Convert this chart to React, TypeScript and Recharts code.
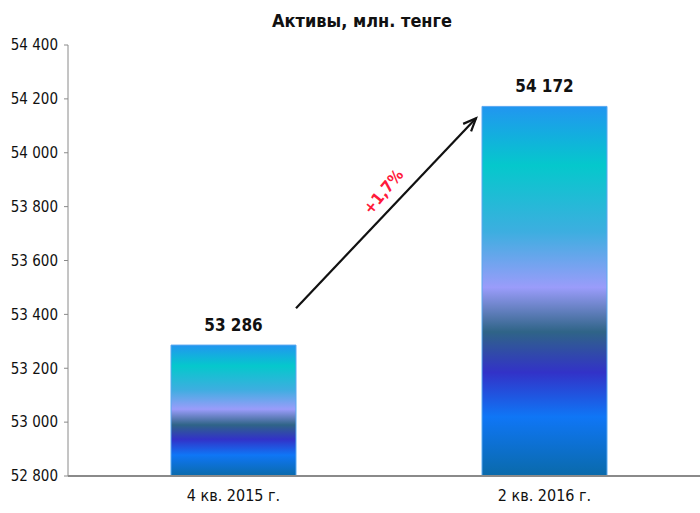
import React from 'react';
import { BarChart, Bar, XAxis, YAxis, LabelList, ReferenceLine } from 'recharts';

const categories = ['4 кв. 2015 г.', '2 кв. 2016 г.'];
const assets = [53286, 54172];
const yTicks = [52800, 53000, 53200, 53400, 53600, 53800, 54000, 54200, 54400];
const title = 'Активы, млн. тенге';
const growthLabel = '+1,7%';
const arrowFrom = 53423;
const arrowTo = 54128;

const data = categories.map((c, i) => ({ name: c, value: assets[i] }));

const FONT = '"DejaVu Sans Condensed", "Liberation Sans Narrow", sans-serif';
const BAR_SIZE = 125;

const fmt = (v: number) => String(v).replace(/\B(?=(\d{3})+(?!\d))/g, ' ');

const ArrowShape = (props: any) => {
  const { x1, y1, x2, y2 } = props;
  if (x1 == null) return null;
  const sx = x1 + BAR_SIZE / 2;
  const ex = x2 - BAR_SIZE / 2 - 6;
  const sy = y1;
  const ey = y2;
  const ang = Math.atan2(ey - sy, ex - sx);
  const ah = 14;
  const a1 = ang + Math.PI - 0.4;
  const a2 = ang + Math.PI + 0.4;
  const mx = (sx + ex) / 2 + 6;
  const my = (sy + ey) / 2 - 8;
  const deg = (ang * 180) / Math.PI;
  const ox = mx + Math.sin(ang) * 6;
  const oy = my - Math.cos(ang) * 6;
  return (
    <g>
      <line x1={sx} y1={sy} x2={ex} y2={ey} stroke="#111" strokeWidth={2.2} />
      <polyline
        points={`${ex + Math.cos(a1) * ah},${ey + Math.sin(a1) * ah} ${ex},${ey} ${ex + Math.cos(a2) * ah},${ey + Math.sin(a2) * ah}`}
        fill="none"
        stroke="#111"
        strokeWidth={2.2}
      />
      <text
        x={ox}
        y={oy - 6}
        transform={`rotate(${deg - 4} ${ox} ${oy - 6})`}
        textAnchor="middle"
        fill="#ff1a3a"
        fontFamily={FONT}
        fontWeight="bold"
        fontSize={16}
      >
        {growthLabel}
      </text>
    </g>
  );
};

export default function App() {
  return (
    <div style={{ position: 'absolute', left: 0, top: 0, width: 700, height: 513, background: '#fff' }}>
      <svg width={700} height={30} style={{ position: 'absolute', left: 0, top: 0 }}>
        <text x={362} y={27} textAnchor="middle" fontFamily={FONT} fontWeight="bold" fontSize={18} fill="#111">
          {title}
        </text>
      </svg>
      <BarChart
        width={700}
        height={513}
        data={data}
        margin={{ top: 45, right: 0, left: 0, bottom: 0 }}
        barCategoryGap={0}
      >
        <defs>
          <linearGradient id="barGrad" x1="0" y1="0" x2="0" y2="1">
            <stop offset="0%" stopColor="#2196F0" />
            <stop offset="16%" stopColor="#05C8CC" />
            <stop offset="34%" stopColor="#3DAEE0" />
            <stop offset="49%" stopColor="#9A9CFA" />
            <stop offset="61%" stopColor="#2F6487" />
            <stop offset="72%" stopColor="#3232C8" />
            <stop offset="84%" stopColor="#0F76F6" />
            <stop offset="100%" stopColor="#0A6AAA" />
          </linearGradient>
        </defs>
        <XAxis
          dataKey="name"
          height={37}
          padding={{ left: 10, right: 0 }}
          tickLine={false}
          axisLine={{ stroke: '#8a8a8a', strokeWidth: 2 }}
          tick={{ fontFamily: FONT, fontSize: 16, fill: '#111' }}
          tickMargin={8}
        />
        <YAxis
          width={68}
          domain={[52800, 54400]}
          ticks={yTicks}
          allowDataOverflow
          tickFormatter={fmt}
          axisLine={{ stroke: '#8a8a8a' }}
          tickLine={{ stroke: '#8a8a8a' }}
          tickSize={4}
          tickMargin={6}
          tick={{ fontFamily: FONT, fontSize: 15, fill: '#111' }}
        />
        <Bar
          dataKey="value"
          barSize={BAR_SIZE}
          fill="url(#barGrad)"
          stroke="#5aa8f0"
          strokeWidth={1}
          isAnimationActive={false}
        >
          <LabelList
            dataKey="value"
            position="top"
            offset={14}
            formatter={(v: any) => fmt(Number(v))}
            style={{ fontFamily: FONT, fontWeight: 'bold', fontSize: 17, fill: '#111' }}
          />
        </Bar>
        <ReferenceLine
          segment={[
            { x: categories[0], y: arrowFrom },
            { x: categories[1], y: arrowTo },
          ]}
          ifOverflow="visible"
          shape={<ArrowShape />}
        />
      </BarChart>
    </div>
  );
}
